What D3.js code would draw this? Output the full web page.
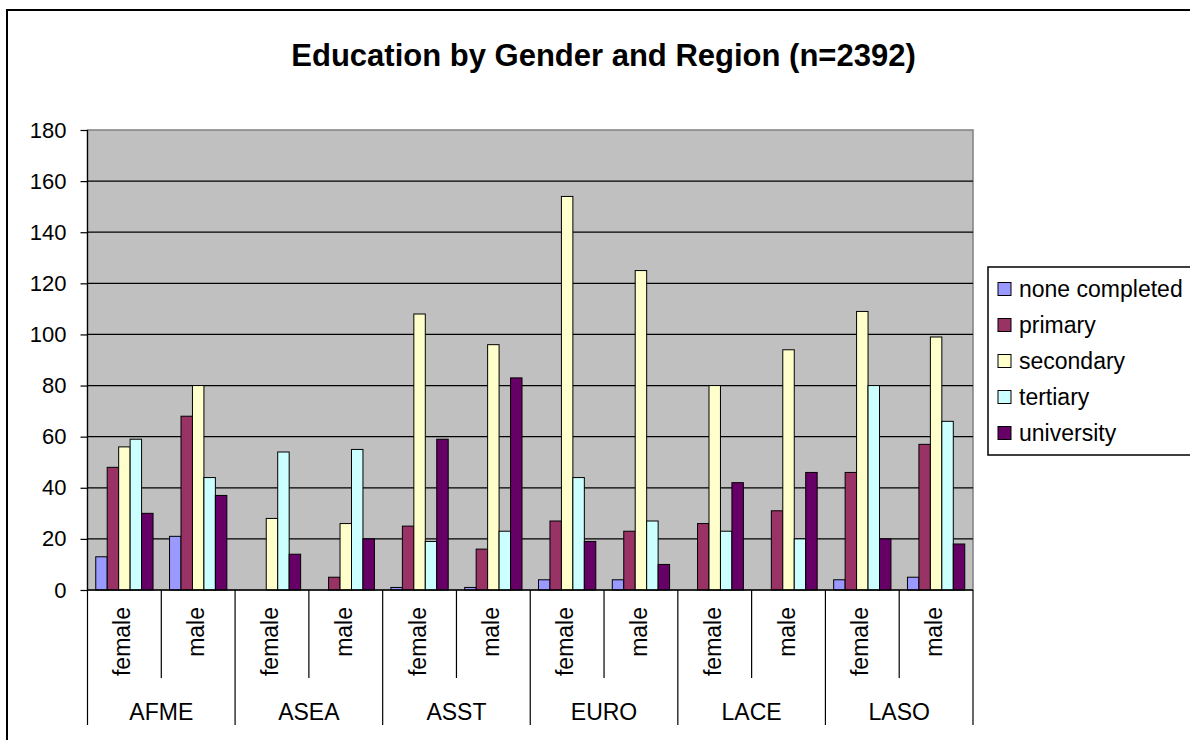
<!DOCTYPE html>
<html>
<head>
<meta charset="utf-8">
<script src="https://cdn.jsdelivr.net/npm/d3@7/dist/d3.min.js"></script>
<style>
  html, body { margin: 0; padding: 0; background: #fff; }
  svg { display: block; }
  text { font-family: "Liberation Sans", Arial, sans-serif; fill: #000; }
</style>
</head>
<body>
<svg id="chart" width="1190" height="740"></svg>
<script>
const title = "Education by Gender and Region (n=2392)";
const regions = ["AFME", "ASEA", "ASST", "EURO", "LACE", "LASO"];
const genders = ["female", "male"];
const seriesNames = ["none completed", "primary", "secondary", "tertiary", "university"];
const seriesColors = ["#9999FF", "#993366", "#FFFFCC", "#CCFFFF", "#660066"];
const noneCompleted = [13, 21, 0, 0, 1, 1, 4, 4, 0, 0, 4, 5];
const primary       = [48, 68, 0, 5, 25, 16, 27, 23, 26, 31, 46, 57];
const secondary     = [56, 80, 28, 26, 108, 96, 154, 125, 80, 94, 109, 99];
const tertiary      = [59, 44, 54, 55, 19, 23, 44, 27, 23, 20, 80, 66];
const university    = [30, 37, 14, 20, 59, 83, 19, 10, 42, 46, 20, 18];
const yTicks = [0, 20, 40, 60, 80, 100, 120, 140, 160, 180];

const seriesValues = [noneCompleted, primary, secondary, tertiary, university];
const cats = [];
regions.forEach(r => genders.forEach(g => cats.push(r + "|" + g)));

const svg = d3.select("#chart");
const L = 87.5, R = 973, T = 130, B = 590;

// outer frame (clipped by window)
svg.append("rect").attr("x", 7).attr("y", 10).attr("width", 1300).attr("height", 900)
  .attr("fill", "none").attr("stroke", "#000").attr("stroke-width", 2);

svg.append("text").attr("x", 603.5).attr("y", 66).attr("text-anchor", "middle")
  .style("font-size", "31px").style("font-weight", "bold").text(title);

const x0 = d3.scaleBand().domain(cats).range([L, R]).paddingInner(0).paddingOuter(0);
const x1 = d3.scaleBand().domain(seriesNames).range([0, x0.bandwidth()]).paddingInner(0).paddingOuter(0.72);
const y = d3.scaleLinear().domain([0, 180]).range([B, T]);
const xg = d3.scaleBand().domain(regions).range([L, R]);

// plot area
svg.append("rect").attr("x", L).attr("y", T).attr("width", R - L).attr("height", B - T)
  .attr("fill", "#C0C0C0").attr("stroke", "#808080").attr("stroke-width", 1.5);

// gridlines
svg.append("g").selectAll("line").data(yTicks.filter(d => d > 0 && d < 180)).join("line")
  .attr("x1", L).attr("x2", R).attr("y1", d => y(d)).attr("y2", d => y(d))
  .attr("stroke", "#000").attr("stroke-width", 1.2);

// bars
const gBars = svg.append("g");
seriesNames.forEach((s, si) => {
  gBars.append("g").selectAll("rect").data(cats.map((c, i) => ({c, v: seriesValues[si][i]})).filter(d => d.v > 0))
    .join("rect")
    .attr("x", d => x0(d.c) + x1(s))
    .attr("y", d => y(d.v))
    .attr("width", x1.bandwidth())
    .attr("height", d => y(0) - y(d.v))
    .attr("fill", seriesColors[si])
    .attr("stroke", "#000").attr("stroke-width", 1);
});

// y axis
const yAxis = d3.axisLeft(y).tickValues(yTicks).tickSize(7).tickPadding(14).tickFormat(d3.format("d"));
const ya = svg.append("g").attr("transform", `translate(${L},0)`).call(yAxis);
ya.select(".domain").remove();
ya.selectAll(".tick line").attr("stroke", "#000").attr("stroke-width", 1.2);
ya.selectAll(".tick text").style("font-size", "22px").style("font-family", '"Liberation Sans", Arial, sans-serif').attr("fill", "#000");
svg.append("line").attr("x1", L).attr("x2", L).attr("y1", T).attr("y2", 725).attr("stroke", "#000").attr("stroke-width", 1.2);

// x baseline
svg.append("line").attr("x1", L).attr("x2", R).attr("y1", B).attr("y2", B).attr("stroke", "#000").attr("stroke-width", 1.5);

// separators
const gSep = svg.append("g");
cats.forEach((c, i) => {
  if (i === 0) return;
  const xx = x0(c);
  const isGroup = i % genders.length === 0;
  gSep.append("line").attr("x1", xx).attr("x2", xx).attr("y1", B).attr("y2", isGroup ? 725 : 678)
    .attr("stroke", "#000").attr("stroke-width", 1.2);
});
gSep.append("line").attr("x1", R).attr("x2", R).attr("y1", B).attr("y2", 725).attr("stroke", "#000").attr("stroke-width", 1.2);

// gender labels
svg.append("g").selectAll("text").data(cats).join("text")
  .attr("transform", d => `translate(${x0(d) + x0.bandwidth() / 2 + 6},607) rotate(-90)`)
  .attr("text-anchor", "end")
  .style("font-size", "23px")
  .text(d => d.split("|")[1]);

// region labels
svg.append("g").selectAll("text").data(regions).join("text")
  .attr("x", d => xg(d) + xg.bandwidth() / 2).attr("y", 720)
  .attr("text-anchor", "middle").style("font-size", "23px").text(d => d);

// legend (clipped by window)
const lg = svg.append("g");
lg.append("rect").attr("x", 988).attr("y", 267).attr("width", 400).attr("height", 188)
  .attr("fill", "#fff").attr("stroke", "#000").attr("stroke-width", 1.5);
seriesNames.forEach((s, i) => {
  const cy = 289 + i * 36;
  lg.append("rect").attr("x", 998).attr("y", cy - 6.5).attr("width", 13).attr("height", 13)
    .attr("fill", seriesColors[i]).attr("stroke", "#000").attr("stroke-width", 1);
  lg.append("text").attr("x", 1019).attr("y", cy + 8).style("font-size", "23px").text(s);
});
</script>
</body>
</html>
